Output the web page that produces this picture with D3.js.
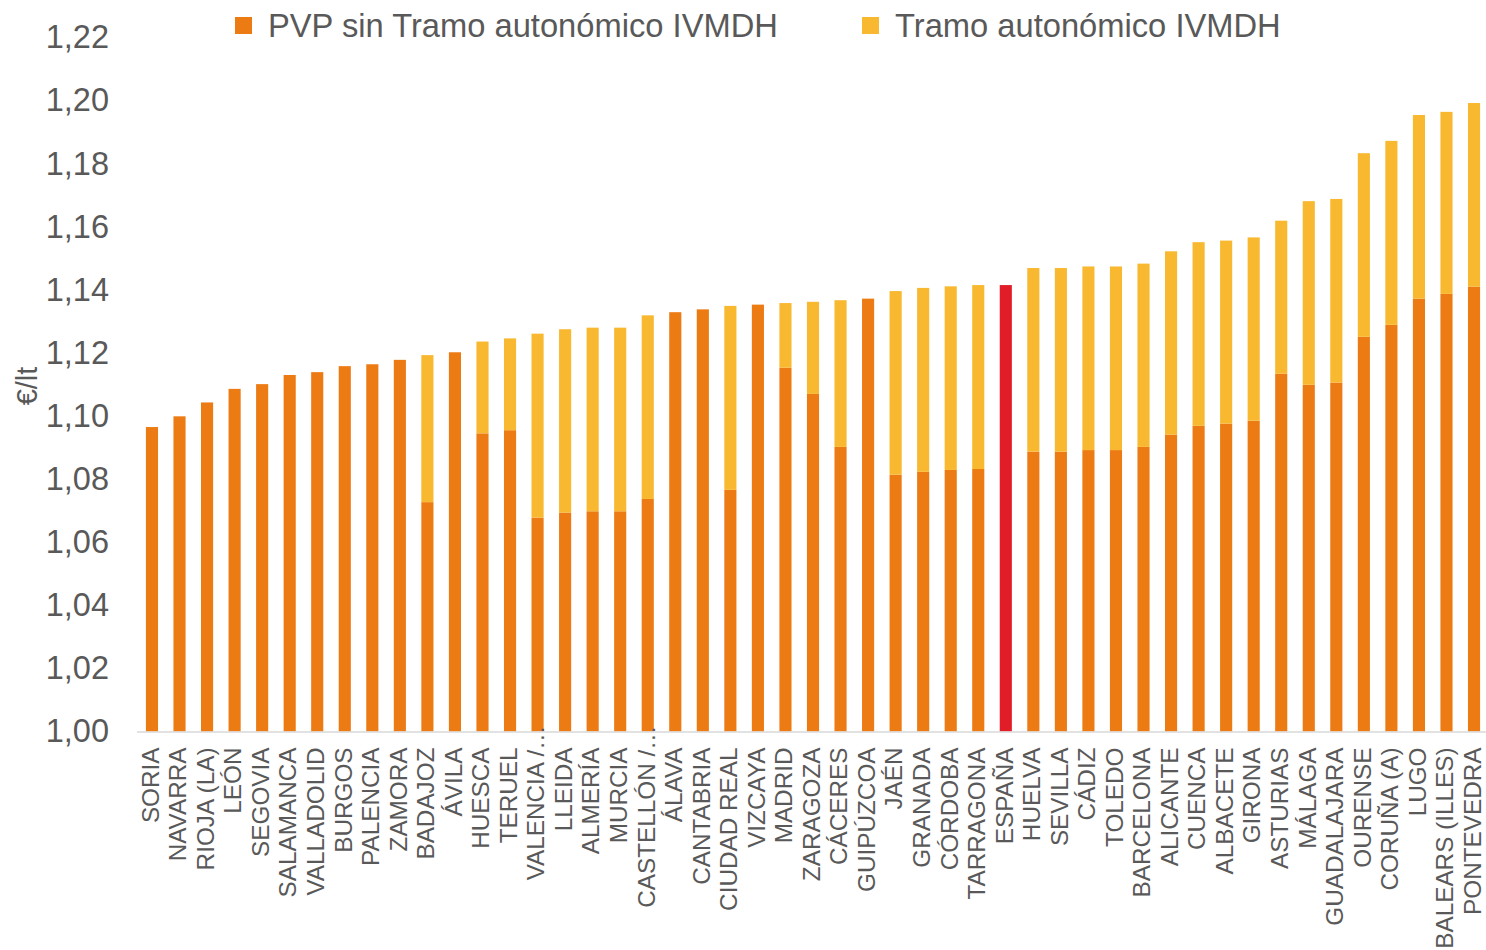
<!DOCTYPE html>
<html><head><meta charset="utf-8">
<script src="https://cdn.jsdelivr.net/npm/d3@7"></script>
<style>
html,body{margin:0;padding:0;background:#fff;}
text{font-family:"Liberation Sans",Arial,sans-serif;fill:#595959;}
</style></head>
<body>
<svg id="chart" width="1486" height="950"></svg>
<script>
const categories = ["SORIA","NAVARRA","RIOJA (LA)","LEÓN","SEGOVIA","SALAMANCA","VALLADOLID","BURGOS","PALENCIA","ZAMORA","BADAJOZ","ÁVILA","HUESCA","TERUEL","VALENCIA /…","LLEIDA","ALMERÍA","MURCIA","CASTELLÓN /…","ÁLAVA","CANTABRIA","CIUDAD REAL","VIZCAYA","MADRID","ZARAGOZA","CÁCERES","GUIPÚZCOA","JAÉN","GRANADA","CÓRDOBA","TARRAGONA","ESPAÑA","HUELVA","SEVILLA","CÁDIZ","TOLEDO","BARCELONA","ALICANTE","CUENCA","ALBACETE","GIRONA","ASTURIAS","MÁLAGA","GUADALAJARA","OURENSE","CORUÑA (A)","LUGO","BALEARS (ILLES)","PONTEVEDRA"];
const pvpSinTramo = [1.0965,1.0999,1.1043,1.1086,1.1101,1.1130,1.1139,1.1158,1.1164,1.1178,1.0727,1.1202,1.0945,1.0955,1.0678,1.0694,1.0698,1.0698,1.0737,1.1329,1.1338,1.0766,1.1353,1.1153,1.1070,1.0902,1.1372,1.0814,1.0823,1.0829,1.0832,1.1415,1.0887,1.0887,1.0892,1.0892,1.0902,1.0941,1.0969,1.0976,1.0985,1.1134,1.1099,1.1106,1.1251,1.1289,1.1372,1.1387,1.1410];
const tramoAutonomico = [0,0,0,0,0,0,0,0,0,0,0.0466,0,0.0291,0.0291,0.0583,0.0581,0.0582,0.0582,0.0582,0,0,0.0583,0,0.0205,0.0292,0.0465,0,0.0582,0.0583,0.0582,0.0583,0,0.0582,0.0582,0.0582,0.0582,0.0581,0.0581,0.0582,0.0580,0.0581,0.0485,0.0582,0.0582,0.0582,0.0583,0.0582,0.0577,0.0582];
const yTicks = [1.00,1.02,1.04,1.06,1.08,1.10,1.12,1.14,1.16,1.18,1.20,1.22];
const seriesNames = ["PVP sin Tramo autonómico IVMDH","Tramo autonómico IVMDH"];
const highlight = "ESPAÑA";

const colors = {base:"#ED7B14", tramo:"#F8B930", highlight:"#E11D28"};
const svg = d3.select("#chart");
const x = d3.scaleBand().domain(categories).range([138.2, 1487.8]).paddingInner(0.56).paddingOuter(0.28);
const y = d3.scaleLinear().domain([1.00, 1.22]).range([731.5, 37.4]);

const data = categories.map((c,i)=>({cat:c, base:pvpSinTramo[i], tramo:tramoAutonomico[i]}));

// bars
const g = svg.append("g");
g.selectAll("rect.base").data(data).join("rect")
  .attr("class","base")
  .attr("x", d=>x(d.cat)).attr("width", x.bandwidth())
  .attr("y", d=>y(d.base)).attr("height", d=>y(1.00)-y(d.base))
  .attr("fill", d=>d.cat===highlight?colors.highlight:colors.base);
g.selectAll("rect.tramo").data(data.filter(d=>d.tramo>0)).join("rect")
  .attr("class","tramo")
  .attr("x", d=>x(d.cat)).attr("width", x.bandwidth())
  .attr("y", d=>y(d.base+d.tramo)).attr("height", d=>y(d.base)-y(d.base+d.tramo))
  .attr("fill", colors.tramo);

// x axis line
svg.append("line").attr("x1",137).attr("x2",1486).attr("y1",y(1.00)+0.5).attr("y2",y(1.00)+0.5)
  .attr("stroke","#d9d9d9").attr("stroke-width",1.5);

// y axis labels
const fmt = v => d3.format(".2f")(v).replace(".",",");
const yAxis = d3.axisLeft(y).tickValues(yTicks).tickFormat(fmt).tickSize(0).tickPadding(0);
const ya = svg.append("g").attr("transform","translate(109,0)").call(yAxis);
ya.select(".domain").remove();
ya.selectAll("text").attr("font-size",32.5).attr("fill","#595959")
  .style("font-family","'Liberation Sans',Arial,sans-serif");

// x axis labels
const xAxis = d3.axisBottom(x).tickSize(0).tickPadding(0);
const xa = svg.append("g").attr("transform",`translate(0,${y(1.00)})`).call(xAxis);
xa.select(".domain").remove();
xa.selectAll("text")
  .attr("font-size",24.3).attr("fill","#595959")
  .style("font-family","'Liberation Sans',Arial,sans-serif")
  .attr("text-anchor","end")
  .attr("transform","rotate(-90)")
  .attr("x", d => d.endsWith("…") ? 6 : -16).attr("y",0).attr("dy","0.28em");

// y title
svg.append("text").attr("transform","translate(27,386) rotate(-90)")
  .attr("text-anchor","middle").attr("dy","0.35em").attr("font-size",29).text("€/lt");

// legend
const legend = [{name:seriesNames[0], color:colors.base, x:235},{name:seriesNames[1], color:colors.tramo, x:862}];
const lg = svg.append("g");
lg.selectAll("rect").data(legend).join("rect")
  .attr("x",d=>d.x).attr("y",17).attr("width",17).attr("height",17).attr("fill",d=>d.color);
lg.selectAll("text").data(legend).join("text")
  .attr("x",d=>d.x+33).attr("y",25.5).attr("dy","0.35em").attr("font-size",32.7).text(d=>d.name);
</script>
</body></html>
